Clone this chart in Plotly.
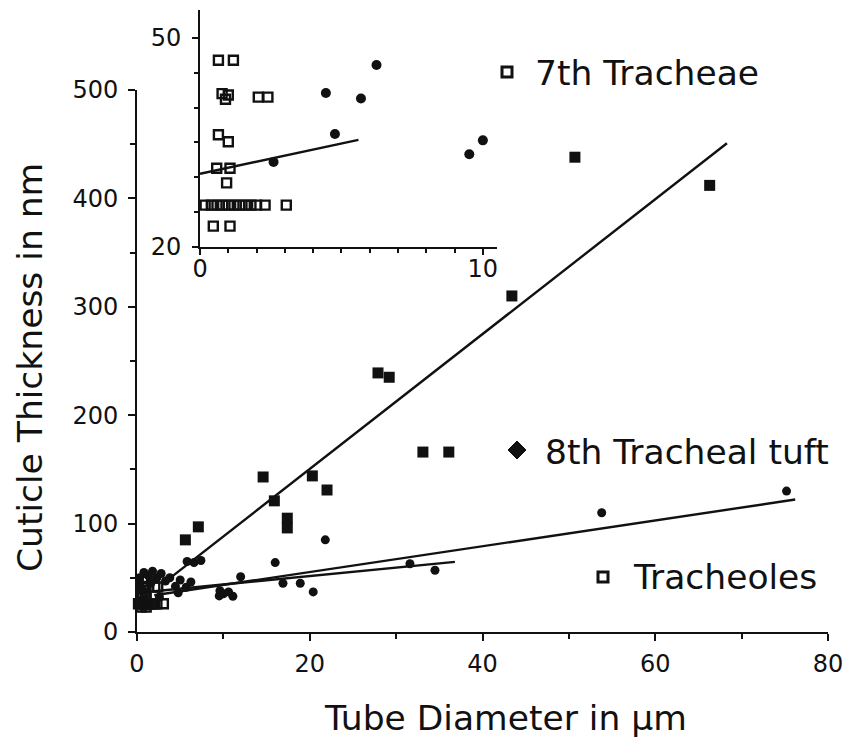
import numpy as np
import plotly.graph_objects as go

FONT = "DejaVu Sans"
INK = "#111111"

# ---- data -------------------------------------------------------------
# Tracheoles (open squares), small diameters in µm / thickness in nm
tracheole_x = [0.65, 1.18, 0.78, 0.90, 1.00, 2.06, 2.40, 0.65, 1.00, 0.59, 1.06, 0.94,
               0.18, 0.40, 0.60, 0.80, 1.00, 1.20, 1.40, 1.60, 1.80, 2.00, 2.30, 3.05,
               0.47, 1.06]
tracheole_y = [46.8, 46.8, 42.0, 41.2, 41.8, 41.5, 41.5, 36.1, 35.1, 31.3, 31.3, 29.2,
               26.0, 26.0, 26.0, 26.0, 26.0, 26.0, 26.0, 26.0, 26.0, 26.0, 26.0, 26.0,
               23.0, 23.0]

# Small tracheal-tuft branches shown in both panels
branch_x = [2.60, 4.45, 4.77, 5.69, 6.24, 9.52, 10.0]
branch_y = [32.2, 42.1, 36.2, 41.3, 46.1, 33.3, 35.3]

# 8th tracheal tuft (filled dots)
tuft8_x = [0.3, 0.8, 1.3, 1.8, 2.3, 2.8, 0.5, 1.6, 3.3, 3.8, 5.0, 5.8, 6.6, 7.4,
           9.6, 10.6, 11.1, 12.0, 16.0, 16.9, 18.9, 20.4, 21.8, 31.6, 34.5, 53.8, 75.2]
tuft8_y = [50, 55, 52, 56, 50, 54, 40, 45, 47, 50, 48, 65, 64, 66,
           38, 37, 33, 51, 64, 45, 45, 37, 85, 63, 57, 110, 130]

# 7th tracheae (filled squares)
trachea7_x = [5.6, 7.1, 14.6, 15.9, 17.4, 17.4, 20.3, 22.0, 27.9, 29.2, 33.1, 36.1,
              43.4, 50.7, 66.3]
trachea7_y = [85, 97, 143, 121, 105, 96, 144, 131, 239, 235, 166, 166,
              310, 438, 412]

# Linear fits: intercept (nm), slope (nm/µm), fitted diameter span (µm)
fit_intercept = [26.0, 31.5, 36.0]
fit_slope = [6.22, 1.19, 0.78]
fit_x_start = [3.0, 2.0, 2.0]
fit_x_end = [68.3, 76.2, 36.8]

inset_fit_intercept = 30.5
inset_fit_slope = 0.87
inset_fit_span = [0.0, 5.6]

main_xticks = [0, 20, 40, 60, 80]
main_yticks = [0, 100, 200, 300, 400, 500]
inset_xticks = [0, 10]
inset_yticks = [20, 50]

# ---- figure -----------------------------------------------------------
fig = go.Figure()

def sq_open(size):
    return dict(symbol="square-open", size=size, color=INK, line=dict(width=2.4, color=INK))

def filled(symbol, size):
    return dict(symbol=symbol, size=size, color=INK, line=dict(width=0))

# main panel
fig.add_trace(go.Scatter(x=tracheole_x, y=tracheole_y, mode="markers",
                         marker=sq_open(9), cliponaxis=False))
fig.add_trace(go.Scatter(x=branch_x, y=branch_y, mode="markers",
                         marker=filled("circle", 9), cliponaxis=False))
fig.add_trace(go.Scatter(x=tuft8_x, y=tuft8_y, mode="markers",
                         marker=filled("circle", 9), cliponaxis=False))
fig.add_trace(go.Scatter(x=trachea7_x, y=trachea7_y, mode="markers",
                         marker=filled("square", 11), cliponaxis=False))
for b0, b1, xs, xe in zip(fit_intercept, fit_slope, fit_x_start, fit_x_end):
    xx = np.array([xs, xe])
    fig.add_trace(go.Scatter(x=xx, y=b0 + b1 * xx, mode="lines",
                             line=dict(color=INK, width=2.4)))

# inset panel
fig.add_trace(go.Scatter(x=tracheole_x, y=tracheole_y, mode="markers",
                         marker=sq_open(9), xaxis="x2", yaxis="y2", cliponaxis=False))
fig.add_trace(go.Scatter(x=branch_x, y=branch_y, mode="markers",
                         marker=filled("circle", 10), xaxis="x2", yaxis="y2", cliponaxis=False))
ix = np.array(inset_fit_span)
fig.add_trace(go.Scatter(x=ix, y=inset_fit_intercept + inset_fit_slope * ix, mode="lines",
                         line=dict(color=INK, width=2.4), xaxis="x2", yaxis="y2"))

axis_common = dict(showline=True, linecolor=INK, linewidth=2, ticks="outside",
                   tickcolor=INK, tickwidth=2, showgrid=False, zeroline=False,
                   automargin=False,
                   tickfont=dict(family=FONT, size=24, color=INK))

fig.update_layout(
    width=850, height=748,
    margin=dict(l=137, r=22, t=8, b=116, autoexpand=False),
    paper_bgcolor="white", plot_bgcolor="rgba(0,0,0,0)",
    showlegend=False,
    xaxis=dict(axis_common, range=[0, 80], domain=[0, 1], anchor="y",
               tickvals=main_xticks, ticklen=7, ticklabelstandoff=2,
               minor=dict(dtick=10, ticklen=5, tickcolor=INK, tickwidth=2, ticks="outside")),
    yaxis=dict(axis_common, range=[0, 500], domain=[0, 0.8686], anchor="x",
               tickvals=main_yticks, ticklen=7, ticklabelstandoff=5,
               minor=dict(dtick=50, ticklen=5, tickcolor=INK, tickwidth=2, ticks="outside")),
    xaxis2=dict(axis_common, range=[0, 10.5], domain=[0.0912, 0.521], anchor="y2",
                tickvals=inset_xticks, ticklen=6, ticklabelstandoff=-7,
                minor=dict(dtick=1, ticklen=4, tickcolor=INK, tickwidth=2, ticks="outside")),
    yaxis2=dict(axis_common, range=[20, 54], domain=[0.617, 0.9968], anchor="x2",
                tickvals=inset_yticks, ticklen=6, ticklabelstandoff=6,
                minor=dict(dtick=5, ticklen=4, tickcolor=INK, tickwidth=2, ticks="outside")),
)

W, H = 691, 624  # plot area in pixels
def px(xp):
    return (xp - 137) / W
def py(yp):
    return (632 - yp) / H

title_font = dict(family=FONT, size=34.5, color=INK)
fig.add_annotation(text="Cuticle Thickness in nm", xref="paper", yref="paper",
                   x=px(30), y=py(368), textangle=-90, showarrow=False,
                   xanchor="center", yanchor="middle", font=title_font)
fig.add_annotation(text="Tube Diameter in µm", xref="paper", yref="paper",
                   x=px(505), y=py(718), showarrow=False,
                   xanchor="center", yanchor="middle", font=title_font)

# key
key = [("7th Tracheae", 533, 73, "square", 507, 72),
       ("8th Tracheal tuft", 543, 452, "diamond", 517, 450),
       ("Tracheoles", 631, 577, "square", 603, 577)]
for label, tx, ty, sym, mx, my in key:
    fig.add_annotation(text=label, xref="paper", yref="paper", x=px(tx), y=py(ty),
                       showarrow=False, xanchor="left", yanchor="middle", font=title_font)
    if sym == "square":
        fig.add_shape(type="rect", xref="paper", yref="paper",
                      xsizemode="pixel", ysizemode="pixel",
                      xanchor=px(mx), yanchor=py(my), x0=-5, x1=5, y0=-5, y1=5,
                      line=dict(color=INK, width=3), fillcolor="white")
    else:
        fig.add_shape(type="path", xref="paper", yref="paper",
                      xsizemode="pixel", ysizemode="pixel",
                      xanchor=px(mx), yanchor=py(my),
                      path="M 0 9 L 9 0 L 0 -9 L -9 0 Z",
                      line=dict(color=INK, width=1), fillcolor=INK)

fig.write_html("out.html")
